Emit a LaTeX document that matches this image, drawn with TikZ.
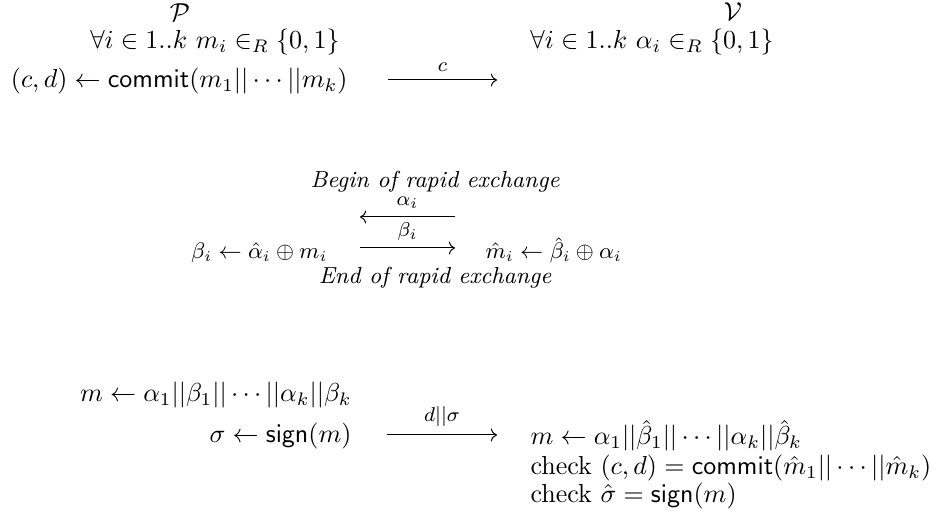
\RequirePackage{fix-cm}
\documentclass[tikz,border=0pt]{standalone}
\usepackage{amsmath,amssymb}
\usetikzlibrary{arrows.meta,positioning}

\begin{document}
\begin{tikzpicture}[
  x=0.4pt, y=-0.4pt,
  every node/.style={inner sep=0pt},
  party/.style={anchor=base, font=\fontsize{10.4}{12.5}\selectfont},
  step line/.style={anchor=base, font=\fontsize{10.4}{12.5}\selectfont},
  fast line/.style={anchor=base, font=\fontsize{9}{11}\selectfont},
  msgarrow/.style={-{To}, thin},
  msglabel/.style={above=3pt, font=\footnotesize},
  phase/.style={anchor=base, font=\fontsize{9.3}{11}\selectfont\itshape},
]
\useasboundingbox (0,0) rectangle (940,518);

% ---- Parties ----
\node[party] (prover) at (180,22) {$\mathcal{P}$};
\node[party] (verifier) at (733,21) {$\mathcal{V}$};

% ---- Initialisation ----
\node[step line] (p-init) at (215,49) {$\forall i \in 1..k\ m_i \in_R \{0,1\}$};
\node[step line] (v-init) at (652,49) {$\forall i \in 1..k\ \alpha_i \in_R \{0,1\}$};
\node[step line, anchor=base east] (p-commit) at (348,88)
  {$(c,d) \leftarrow \mathsf{commit}(m_1||\cdots||m_k)$};
\coordinate (c-from) at (388,80);
\coordinate (c-to) at (497,80);
\draw[msgarrow] (c-from) -- node[msglabel] (c-lbl) {$c$} (c-to);

% ---- Rapid exchange ----
\node[phase] (begin) at (435,188) {Begin of rapid exchange};
\coordinate (a-from) at (455,217);
\coordinate (a-to) at (360,217);
\draw[msgarrow] (a-from) -- node[msglabel] (a-lbl) {$\alpha_i$} (a-to);
\node[fast line, anchor=base east] (p-beta) at (328,259)
  {$\beta_i \leftarrow \hat{\alpha}_i \oplus m_i$};
\coordinate (b-from) at (360,248);
\coordinate (b-to) at (455,248);
\draw[msgarrow] (b-from) -- node[msglabel] (b-lbl) {$\beta_i$} (b-to);
\node[fast line, anchor=base west] (v-mhat) at (485,259)
  {$\hat{m}_i \leftarrow \hat{\beta}_i \oplus \alpha_i$};
\node[phase] (end) at (435,284) {End of rapid exchange};

% ---- Signature and checks ----
\node[step line, anchor=base east] (p-concat) at (352,402)
  {$m \leftarrow \alpha_1||\beta_1||\cdots||\alpha_k||\beta_k$};
\node[step line, anchor=base east] (p-sign) at (352,443)
  {$\sigma \leftarrow \mathsf{sign}(m)$};
\coordinate (s-from) at (387,435);
\coordinate (s-to) at (497,435);
\draw[msgarrow] (s-from) -- node[msglabel] (s-lbl) {$d||\sigma$} (s-to);
\node[step line, anchor=base west] (v-concat) at (530,445)
  {$m \leftarrow \alpha_1||\hat{\beta}_1||\cdots||\alpha_k||\hat{\beta}_k$};
\node[step line, anchor=base west] (v-check1) at (530,475)
  {check $(c,d) = \mathsf{commit}(\hat{m}_1||\cdots||\hat{m}_k)$};
\node[step line, anchor=base west] (v-check2) at (530,503)
  {check $\hat{\sigma} = \mathsf{sign}(m)$};

\end{tikzpicture}
\end{document}
